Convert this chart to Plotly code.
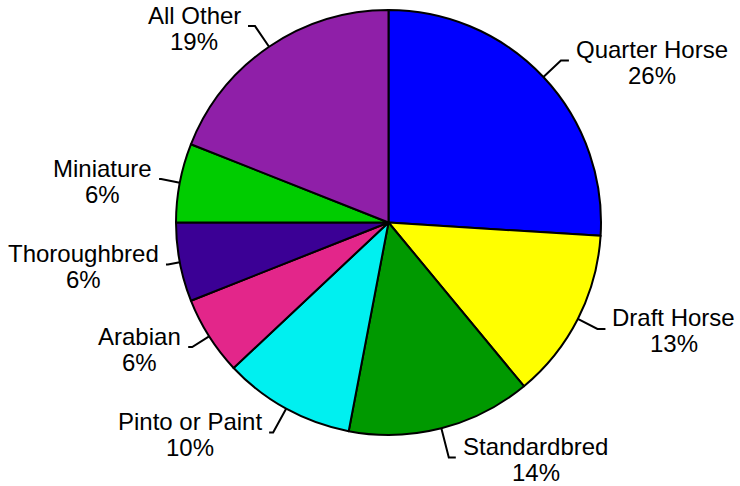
import math
import plotly.graph_objects as go

breeds = ["Quarter Horse", "Draft Horse", "Standardbred", "Pinto or Paint",
          "Arabian", "Thoroughbred", "Miniature", "All Other"]
shares = [26, 13, 14, 10, 6, 6, 6, 19]
colors = ["#0000FF", "#FFFF00", "#009900", "#00F0F0",
          "#E3268A", "#3B0095", "#00CC00", "#8F1FA8"]

# leader-line styling per label (radial part, horizontal part), in pixels
LEAD_RADIAL = [24, 22, 30, 27, 20, 12, 19, 25]
LEAD_HORIZ = [8, 8, 7, 4, 4, 2, 2, 7]

W, H = 740, 486
CX, CY, R = 388.5, 222.5, 212.5
FONT = 24
GAP = 7

# Arial / Liberation Sans advance widths (per 1000 em)
AW = {" ": 278, "A": 667, "D": 722, "H": 722, "M": 833, "O": 778, "P": 667,
      "Q": 778, "S": 667, "T": 611, "a": 556, "b": 556, "d": 556, "e": 556,
      "f": 278, "g": 556, "h": 556, "i": 222, "l": 222, "n": 556, "o": 556,
      "r": 333, "s": 500, "t": 278, "u": 556, "%": 889}


def text_w(s):
    return sum(AW.get(c, 556) for c in s) * FONT / 1000.0


def px(x):
    return x / W


def py(y):
    return 1 - y / H


fig = go.Figure(go.Pie(
    labels=breeds, values=shares, sort=False, direction="clockwise",
    rotation=0, textinfo="none", hoverinfo="skip", showlegend=False,
    marker=dict(colors=colors, line=dict(color="black", width=2)),
    domain=dict(x=[px(CX - R), px(CX + R)], y=[py(CY + R), py(CY - R)]),
))

shapes = []
annotations = []
total = sum(shares)
cum = 0
for name, v, lr, lh in zip(breeds, shares, LEAD_RADIAL, LEAD_HORIZ):
    mid = (cum + v / 2) / total * 2 * math.pi
    cum += v
    sx, sy = math.sin(mid), -math.cos(mid)
    ex, ey = CX + R * sx, CY + R * sy
    kx, ky = CX + (R + lr) * sx, CY + (R + lr) * sy
    side = 1 if sx >= 0 else -1
    hx = kx + side * lh
    shapes.append(dict(type="path", xref="paper", yref="paper",
                       path=f"M {px(ex)} {py(ey)} L {px(kx)} {py(ky)} L {px(hx)} {py(ky)}",
                       line=dict(color="black", width=2)))
    pct = f"{v}%"
    wn = text_w(name)
    cxl = hx + side * (GAP + wn / 2)
    font = dict(family="Liberation Sans, Arial", size=FONT, color="black")
    annotations.append(dict(x=px(cxl), y=py(ky - 11), xref="paper", yref="paper",
                            text=name, showarrow=False, xanchor="center", yanchor="middle",
                            font=font))
    annotations.append(dict(x=px(cxl), y=py(ky + 15), xref="paper", yref="paper",
                            text=pct, showarrow=False, xanchor="center", yanchor="middle",
                            font=font))

fig.update_layout(width=W, height=H, margin=dict(l=0, r=0, t=0, b=0),
                  paper_bgcolor="white", plot_bgcolor="white",
                  shapes=shapes, annotations=annotations)

fig.write_html("out.html", config={"displayModeBar": False},
               post_script="document.body.style.margin='0px';document.body.style.overflow='hidden';")
